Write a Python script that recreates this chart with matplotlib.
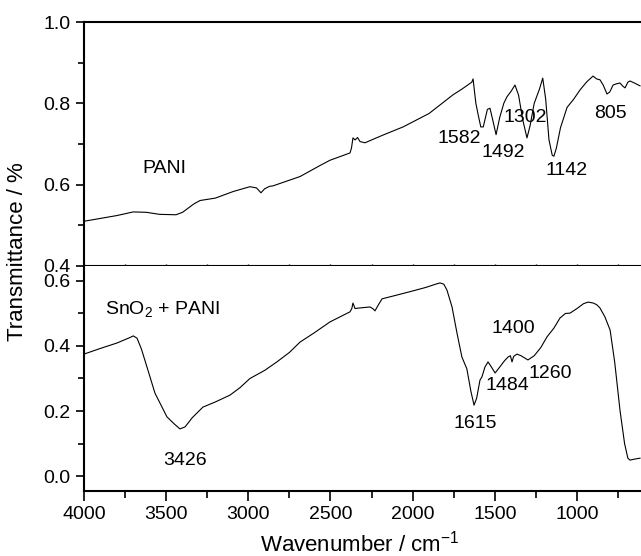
import matplotlib
matplotlib.use('Agg')
import matplotlib.pyplot as plt
from matplotlib.ticker import MultipleLocator

plt.rcParams['font.family'] = ['Liberation Sans', 'DejaVu Sans']
plt.rcParams['mathtext.fontset'] = 'custom'
plt.rcParams['mathtext.rm'] = 'Liberation Sans'
plt.rcParams['mathtext.it'] = 'Liberation Sans'

# PANI spectrum (wavenumber, transmittance)
pani_wn = [4000, 3900, 3800, 3700, 3620, 3540, 3440, 3400, 3330, 3294, 3200, 3093,
           2990, 2950, 2923, 2900, 2870, 2850, 2685, 2564, 2503, 2381, 2372, 2363,
           2350, 2335, 2320, 2290, 2180, 2058, 1900, 1754, 1700, 1640, 1632, 1615,
           1600, 1585, 1570, 1545, 1529, 1510, 1492, 1470, 1445, 1426, 1400, 1377,
           1355, 1330, 1304, 1285, 1260, 1228, 1208, 1190, 1170, 1150, 1140, 1125,
           1100, 1060, 1020, 981, 940, 902, 880, 860, 840, 817, 800, 780, 760, 738,
           720, 707, 690, 677, 650, 616]
pani_t = [0.510, 0.517, 0.524, 0.533, 0.532, 0.527, 0.526, 0.532, 0.553, 0.561, 0.567, 0.583,
          0.595, 0.592, 0.580, 0.590, 0.596, 0.597, 0.620, 0.647, 0.660, 0.678, 0.690, 0.715,
          0.710, 0.716, 0.706, 0.703, 0.722, 0.742, 0.775, 0.821, 0.835, 0.852, 0.860, 0.800,
          0.770, 0.742, 0.742, 0.785, 0.788, 0.755, 0.723, 0.765, 0.800, 0.816, 0.830, 0.845,
          0.820, 0.760, 0.715, 0.745, 0.800, 0.835, 0.862, 0.810, 0.710, 0.672, 0.670, 0.690,
          0.740, 0.790, 0.810, 0.833, 0.853, 0.867, 0.860, 0.858, 0.845, 0.823, 0.828, 0.845,
          0.848, 0.850, 0.842, 0.838, 0.852, 0.855, 0.850, 0.843]

# SnO2 + PANI spectrum
comp_wn = [4000, 3903, 3800, 3720, 3700, 3677, 3650, 3617, 3568, 3495, 3450, 3416,
           3385, 3340, 3276, 3200, 3111, 3050, 2990, 2900, 2826, 2750, 2685, 2600,
           2503, 2440, 2381, 2370, 2363, 2350, 2339, 2300, 2259, 2240, 2229, 2210,
           2186, 2100, 2016, 1920, 1860, 1833, 1810, 1791, 1760, 1730, 1700, 1670,
           1645, 1626, 1610, 1590, 1578, 1560, 1541, 1520, 1498, 1470, 1440, 1419,
           1405, 1395, 1385, 1365, 1340, 1298, 1260, 1220, 1182, 1140, 1103, 1070,
           1042, 1000, 960, 932, 900, 880, 860, 830, 798, 770, 738, 710, 690, 677,
           650, 616]
comp_t = [0.375, 0.392, 0.409, 0.426, 0.431, 0.424, 0.390, 0.336, 0.255, 0.182, 0.160, 0.145,
          0.151, 0.180, 0.212, 0.228, 0.249, 0.272, 0.300, 0.325, 0.351, 0.380, 0.412, 0.440,
          0.474, 0.490, 0.505, 0.515, 0.532, 0.515, 0.516, 0.518, 0.520, 0.514, 0.508, 0.525,
          0.545, 0.556, 0.567, 0.580, 0.590, 0.594, 0.590, 0.572, 0.520, 0.440, 0.366, 0.330,
          0.260, 0.218, 0.240, 0.295, 0.305, 0.335, 0.351, 0.335, 0.317, 0.335, 0.355, 0.366,
          0.370, 0.351, 0.368, 0.375, 0.370, 0.357, 0.370, 0.395, 0.428, 0.455, 0.486, 0.500,
          0.501, 0.515, 0.530, 0.535, 0.532, 0.527, 0.517, 0.490, 0.449, 0.350, 0.203, 0.100,
          0.055, 0.049, 0.052, 0.055]

# peak labels: (text, wavenumber, transmittance)
pani_labels = [('1582', 1718, 0.713), ('1492', 1450, 0.678), ('1302', 1316, 0.764),
               ('1142', 1060, 0.634), ('805', 798, 0.776)]
comp_labels = [('3426', 3385, 0.049), ('1615', 1620, 0.163), ('1484', 1426, 0.280),
               ('1260', 1164, 0.314), ('1400', 1389, 0.455)]

fs = 14
fig = plt.figure(figsize=(6.41, 5.56), dpi=100)
ax1 = fig.add_axes([0.131, 0.5216, 0.869, 0.4388])
ax2 = fig.add_axes([0.131, 0.1169, 0.869, 0.4047])

ax1.plot(pani_wn, pani_t, color='black', lw=0.8)
ax2.plot(comp_wn, comp_t, color='black', lw=0.8)

for ax in (ax1, ax2):
    ax.set_xlim(4000, 610)
    ax.spines['right'].set_visible(False)
    for s in ax.spines.values():
        s.set_linewidth(1.5)
    ax.xaxis.set_major_locator(MultipleLocator(500))
    ax.xaxis.set_minor_locator(MultipleLocator(250))
    ax.yaxis.set_major_locator(MultipleLocator(0.2))
    ax.yaxis.set_minor_locator(MultipleLocator(0.1))
    ax.tick_params(axis='y', which='major', direction='out', length=6, width=1.2, labelsize=fs)
    ax.tick_params(axis='y', which='minor', direction='out', length=4, width=1.2)

ax1.set_ylim(0.4, 1.0)
ax1.set_yticks([0.4, 0.6, 0.8, 1.0])
ax1.set_yticklabels(['0.4', '0.6', '0.8', '1.0'])
ax1.tick_params(axis='x', which='both', direction='inout', length=3, width=1.0,
                labelbottom=False)

ax2.set_ylim(-0.046, 0.646)
ax2.set_yticks([0.0, 0.2, 0.4, 0.6])
ax2.set_yticklabels(['0.0', '0.2', '0.4', '0.6'])
ax2.spines['top'].set_visible(False)
ax2.tick_params(axis='x', which='major', direction='out', length=7, width=1.2, labelsize=fs)
ax2.tick_params(axis='x', which='minor', direction='out', length=5, width=1.2)

ax1.text(3513, 0.64, 'PANI', fontsize=fs, ha='center', va='center')
ax2.text(3872, 0.514, 'SnO$_{\\mathrm{2}}$ + PANI', fontsize=fs, ha='left', va='center')
for txt, x, y in pani_labels:
    ax1.text(x, y, txt, fontsize=fs, ha='center', va='center')
for txt, x, y in comp_labels:
    ax2.text(x, y, txt, fontsize=fs, ha='center', va='center')

fig.text(0.028, 0.547, 'Transmittance / %', fontsize=16, rotation=90,
         ha='center', va='center')
fig.text(0.562, 0.022, 'Wavenumber / cm$^{\\mathrm{-1}}$', fontsize=16,
         ha='center', va='center')

plt.savefig('out.png', dpi=100)
